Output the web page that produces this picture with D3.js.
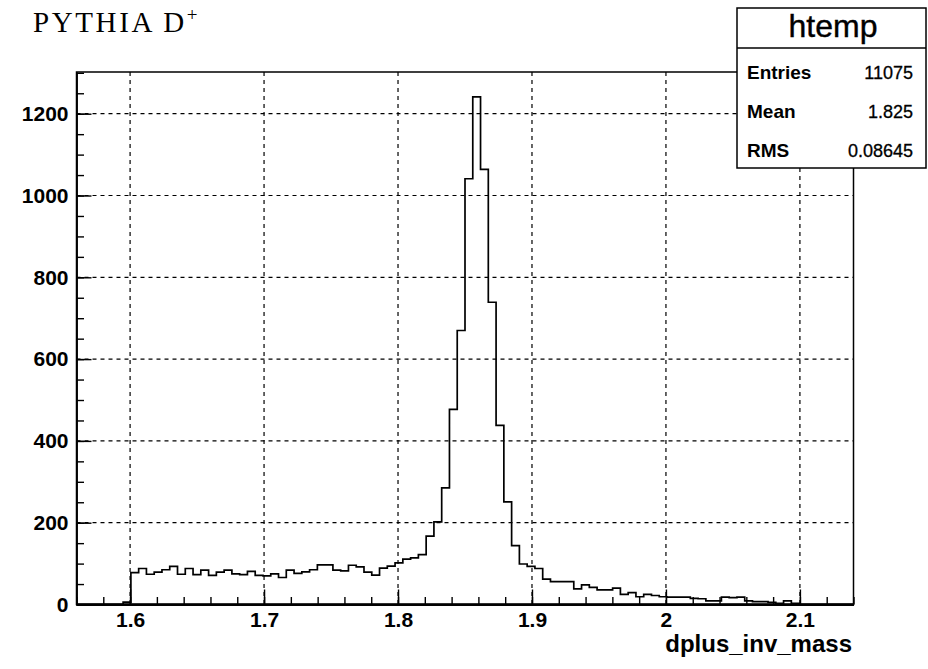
<!DOCTYPE html>
<html>
<head>
<meta charset="utf-8">
<script src="https://cdn.jsdelivr.net/npm/d3@7"></script>
<style>
  body { margin: 0; background: white; }
  text { font-family: "Liberation Sans", Arial, sans-serif; }
</style>
</head>
<body>
<script>
// histogram htemp: 100 bins from 1.56 to 2.14
const nBins = 100
const xMin = 1.56
const xMax = 2.14
const counts = [
    0, 0, 0, 0, 0, 0, 6,
    78, 88, 74, 79, 85, 93, 74, 88, 73, 84, 71, 79, 84, 75, 73, 81, 71, 70, 75,
    66, 84, 76, 80, 85, 97, 97, 84, 82, 96, 92, 79, 72, 89, 94, 102, 111, 114,
    122, 167, 202, 285, 477, 670, 1041, 1241, 1064, 739, 438, 251, 144, 99, 93,
    88, 62, 56, 56, 56, 38, 48, 42, 36, 36, 40, 25, 29, 19, 25, 22, 19, 18, 18, 18, 15,
    14, 9, 9, 18, 17, 18, 9, 7, 7, 5, 3, 9, 3, 0, 0, 0, 0, 0, 0, 0
]
const yMax = 1302
const xTicks = [1.6, 1.7, 1.8, 1.9, 2.0, 2.1]
const xTickLabels = ["1.6", "1.7", "1.8", "1.9", "2", "2.1"]
const yTicks = [0, 200, 400, 600, 800, 1000, 1200]
const statNames = ["Entries", "Mean", "RMS"]
const statValues = ["11075", "1.825", "0.08645"]

const width = 928
const height = 669
const frameLeft = 76.5
const frameRight = 853.5
const frameTop = 72
const frameBottom = 604.5

const svg = d3.select("body")
    .append("svg")
    .attr("width", width)
    .attr("height", height)
    .style("background-color", "white")

const x = d3.scaleLinear().domain([xMin, xMax]).range([frameLeft, frameRight])
const y = d3.scaleLinear().domain([0, yMax]).range([frameBottom, frameTop])

const binWidth = (xMax - xMin) / nBins

// grid
svg.append("g").selectAll("line")
    .data(xTicks)
    .enter()
    .append("line")
    .attr("x1", d => x(d)).attr("x2", d => x(d))
    .attr("y1", frameTop).attr("y2", frameBottom)
    .attr("stroke", "black")
    .attr("stroke-width", 1.2)
    .attr("stroke-dasharray", "4,4")
svg.append("g").selectAll("line")
    .data(yTicks.slice(1))
    .enter()
    .append("line")
    .attr("x1", frameLeft).attr("x2", frameRight)
    .attr("y1", d => y(d)).attr("y2", d => y(d))
    .attr("stroke", "black")
    .attr("stroke-width", 1.2)
    .attr("stroke-dasharray", "4,4")

// histogram outline
const pts = [[x(xMin), y(0)]]
counts.forEach((c, i) => {
    pts.push([x(xMin + i * binWidth), y(c)])
    pts.push([x(xMin + (i + 1) * binWidth), y(c)])
})
pts.push([x(xMax), y(0)])
svg.append("path")
    .attr("d", d3.line()(pts))
    .attr("fill", "none")
    .attr("stroke", "black")
    .attr("stroke-width", 1.7)

// frame
svg.append("rect")
    .attr("x", frameLeft).attr("y", frameTop)
    .attr("width", frameRight - frameLeft).attr("height", frameBottom - frameTop)
    .attr("fill", "none")
    .attr("stroke", "black")
    .attr("stroke-width", 1.5)

// axes
const xAxis = d3.axisBottom(x)
    .tickValues(d3.range(1.56, 2.1401, 0.02).map(v => +v.toFixed(2)))
    .tickSizeInner(-7.5).tickSizeOuter(0).tickFormat("")
svg.append("g").attr("transform", `translate(0,${frameBottom})`).call(xAxis)
const xAxisMajor = d3.axisBottom(x)
    .tickValues(xTicks)
    .tickSizeInner(-15).tickSizeOuter(0)
    .tickPadding(8)
    .tickFormat((d, i) => xTickLabels[i])
svg.append("g").attr("transform", `translate(0,${frameBottom})`).call(xAxisMajor)

const yAxis = d3.axisLeft(y)
    .tickValues(d3.range(0, 1301, 50))
    .tickSizeInner(-7.5).tickSizeOuter(0).tickFormat("")
svg.append("g").attr("transform", `translate(${frameLeft},0)`).call(yAxis)
const yAxisMajor = d3.axisLeft(y)
    .tickValues(yTicks)
    .tickSizeInner(-15).tickSizeOuter(0)
    .tickPadding(8)
    .tickFormat(d3.format("d"))
svg.append("g").attr("transform", `translate(${frameLeft},0)`).call(yAxisMajor)

svg.selectAll(".domain").attr("stroke", "black").attr("stroke-width", 1.5)
svg.selectAll(".tick line").attr("stroke", "black").attr("stroke-width", 1.4)
svg.selectAll(".tick text")
    .style("font-family", "'Liberation Sans', Arial, sans-serif")
    .style("font-size", "21px")
    .style("font-weight", "bold")
    .attr("fill", "black")

// thicker bottom axis line
svg.append("line")
    .attr("x1", frameLeft).attr("x2", frameRight)
    .attr("y1", frameBottom).attr("y2", frameBottom)
    .attr("stroke", "black")
    .attr("stroke-width", 2.5)

svg.append("text")
    .attr("x", 852).attr("y", 652)
    .attr("text-anchor", "end")
    .style("font-size", "24px")
    .style("font-weight", "bold")
    .text("dplus_inv_mass")

// stats box
svg.append("rect")
    .attr("x", 737).attr("y", 8)
    .attr("width", 189).attr("height", 160)
    .attr("fill", "white")
    .attr("stroke", "black")
    .attr("stroke-width", 1.5)
svg.append("line")
    .attr("x1", 737).attr("x2", 926)
    .attr("y1", 48).attr("y2", 48)
    .attr("stroke", "black")
    .attr("stroke-width", 1.5)
svg.append("text")
    .attr("x", 833).attr("y", 37)
    .attr("text-anchor", "middle")
    .style("font-size", "32px")
    .style("font-weight", "500")
    .style("stroke", "black")
    .style("stroke-width", 0.4)
    .text("htemp")
svg.selectAll(".statName")
    .data(statNames)
    .enter()
    .append("text")
    .attr("x", 747)
    .attr("y", (d, i) => 79 + i * 39)
    .style("font-size", "19px")
    .style("font-weight", "bold")
    .text(d => d)
svg.selectAll(".statValue")
    .data(statValues)
    .enter()
    .append("text")
    .attr("x", 913)
    .attr("y", (d, i) => 79 + i * 39)
    .attr("text-anchor", "end")
    .style("font-size", "18px")
    .style("stroke", "black")
    .style("stroke-width", 0.3)
    .text(d => d)

// title
const title = svg.append("text")
    .attr("x", 33).attr("y", 32)
    .style("font-family", "'Liberation Serif', 'Times New Roman', serif")
    .style("font-size", "29px")
    .style("letter-spacing", "2.6px")
    .text("PYTHIA D")
title.append("tspan")
    .attr("dy", -11)
    .style("font-size", "19px")
    .style("letter-spacing", "0px")
    .text("+")
</script>
</body>
</html>
